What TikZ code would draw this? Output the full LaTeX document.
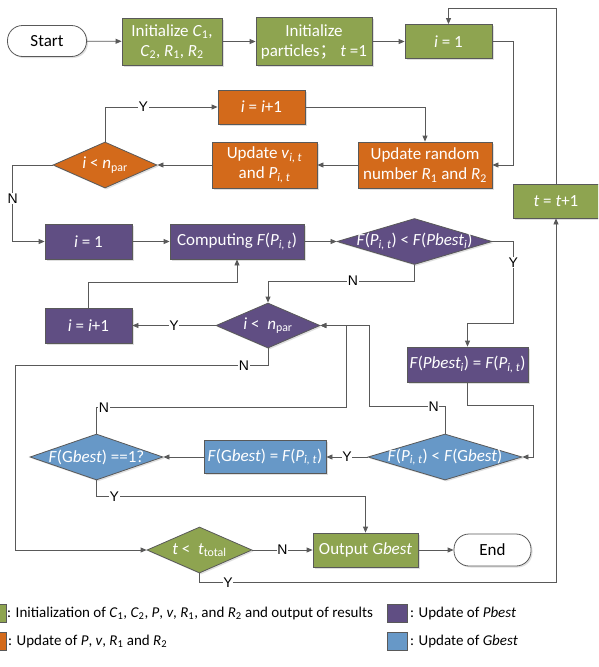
\documentclass[tikz,border=0pt]{standalone}
\usepackage{fontspec}
\setmainfont{Carlito}
\newfontfamily\lblfont{Liberation Sans}
\newfontfamily\cjk{Noto Sans CJK SC}
\usetikzlibrary{shapes.geometric,arrows.meta,shadows}
\definecolor{cgreen}{RGB}{142,164,80}
\definecolor{corange}{RGB}{211,106,27}
\definecolor{cpurple}{RGB}{96,78,131}
\definecolor{cblue}{RGB}{103,152,199}
\newcommand{\ivar}[2]{\textit{#1}\textsubscript{#2}}
\newcommand{\Pit}{\ivar{P}{\textit{i, t}}}

\begin{document}
\begin{tikzpicture}[x=1pt,y=-1pt,
        every node/.style = {font=\fontsize{17}{20}\selectfont, align=center, inner sep=1pt},
        box/.style = {rectangle, draw=black!65, line width=0.8pt, text=white,
                      drop shadow={opacity=0.25, shadow xshift=1.5pt, shadow yshift=-1.5pt}},
        gbox/.style = {box, fill=cgreen},
        obox/.style = {box, fill=corange},
        pbox/.style = {box, fill=cpurple},
        bbox/.style = {box, fill=cblue},
        dec/.style = {diamond, draw=black!65, line width=0.8pt, inner sep=0pt,
                      drop shadow={opacity=0.25, shadow xshift=1.5pt, shadow yshift=-1.5pt}},
        wtxt/.style = {text=white},
        term/.style = {rectangle, rounded corners=15pt, draw=black!65, line width=0.8pt, fill=white,
                       drop shadow={opacity=0.25, shadow xshift=1.5pt, shadow yshift=-1.5pt}},
        conn/.style = {draw=black!65, line width=0.8pt, -{Triangle[length=6pt,width=5pt]}},
        yn/.style = {font=\lblfont\fontsize{14}{14}\selectfont, fill=white, inner sep=0.6pt, text=black},
        leg/.style = {rectangle, draw=black!65, line width=0.8pt, minimum width=20pt, minimum height=18pt, inner sep=0pt},
        legtxt/.style = {anchor=west, inner sep=0pt, font=\fontsize{15}{17}\selectfont}]
    \clip (0,0) rectangle (598,667);

    % initialization
    \node[term, minimum width=79pt, minimum height=31pt] (start) at (47,41) {Start};
    \node[gbox, minimum width=100pt, minimum height=47pt] (initC) at (172,41.5)
        {Initialize \ivar{C}{1},\\\ivar{C}{2}, \ivar{R}{1}, \ivar{R}{2}};
    \node[gbox, minimum width=116pt, minimum height=48pt] (initP) at (314,41.5)
        {Initialize\\particles{\cjk ；}\ \textit{t} =1};
    \node[gbox, minimum width=87pt, minimum height=34pt] (i1) at (448.5,41.5) {\textit{i} = 1};
    \node[gbox, minimum width=86pt, minimum height=34pt] (tinc) at (556,201) {\textit{t} = \textit{t}+1};

    % update of P, v, R1, R2
    \node[obox, minimum width=87pt, minimum height=34pt] (oinc) at (261.5,107) {\textit{i} = \textit{i}+1};
    \node[obox, minimum width=134pt, minimum height=46pt] (updR) at (425,165)
        {Update random\\number \ivar{R}{1} and \ivar{R}{2}};
    \node[obox, minimum width=105pt, minimum height=46pt] (updV) at (264.5,165)
        {Update \ivar{v}{\textit{i, t}}\\and \Pit};
    \node[dec, fill=corange, minimum width=104pt, minimum height=46pt,
          label={[wtxt]center:\textit{i} < \ivar{n}{par}}] (odec) at (105,165) {};

    % update of Pbest
    \node[pbox, minimum width=87pt, minimum height=35pt] (pi1) at (88.5,241.5) {\textit{i} = 1};
    \node[pbox, minimum width=134pt, minimum height=35pt] (comp) at (237,241.5) {Computing \textit{F}(\Pit)};
    \node[dec, fill=cpurple, minimum width=155pt, minimum height=46pt,
          label={[wtxt]center:\textit{F}(\Pit) < \textit{F}(\ivar{Pbest}{\textit{i}})}] (pdec1) at (414.5,241.5) {};
    \node[pbox, minimum width=121pt, minimum height=35pt] (pbestA) at (467.5,364.5)
        {\textit{F}(\ivar{Pbest}{\textit{i}}) = \textit{F}(\Pit)};
    \node[dec, fill=cpurple, minimum width=104pt, minimum height=45pt,
          label={[wtxt]center:\textit{i} <\ \ \ivar{n}{par}}] (pdec2) at (268,325.5) {};
    \node[pbox, minimum width=87pt, minimum height=35pt] (pinc) at (88.5,325.5) {\textit{i} = \textit{i}+1};

    % update of Gbest
    \node[dec, fill=cblue, minimum width=154pt, minimum height=46pt,
          label={[wtxt]center:\textit{F}(\Pit) < \textit{F}(G\textit{best})}] (gdec1) at (445,457) {};
    \node[bbox, minimum width=122pt, minimum height=33pt] (gset) at (265,457)
        {\textit{F}(G\textit{best}) = \textit{F}(\Pit)};
    \node[dec, fill=cblue, minimum width=133pt, minimum height=46pt,
          label={[wtxt]center:\textit{F}(G\textit{best}) ==1?}] (gdec2) at (96.5,457) {};

    % output
    \node[dec, fill=cgreen, minimum width=105pt, minimum height=46pt,
          label={[wtxt]center:\textit{t} <\ \ \ivar{t}{total}}] (tdec) at (199.5,550) {};
    \node[gbox, minimum width=105pt, minimum height=34pt] (out) at (365.5,550) {Output \textit{Gbest}};
    \node[term, minimum width=77pt, minimum height=32pt] (end) at (492.5,550) {End};

    \draw[conn] (start) -- (initC);
    \draw[conn] (initC) -- (initP);
    \draw[conn] (initP) -- (i1);
    \draw[conn] (i1.east) -- ++(21,0) |- (updR.east);
    \draw[conn] (updR) -- (updV);
    \draw[conn] (updV) -- (odec);
    \draw[conn] (odec.north) |- node[yn, pos=0.67] {Y} (oinc.west);
    \draw[conn] (oinc.east) -| (updR.north);
    \draw[conn] (odec.west) -- ++(-40,0) |- node[yn, pos=0.22] {N} (pi1.west);
    \draw[conn] (pi1) -- (comp);
    \draw[conn] (comp) -- (pdec1);
    \draw[conn] (pdec1.east) -- ++(21,0) -- node[yn, pos=0.26] {Y} ++(0,82) -| (pbestA.north);
    \draw[conn] (pdec1.south) -- ++(0,16) -| node[yn, pos=0.21] {N} (pdec2.north);
    \draw[conn] (pdec2.west) -- node[yn] {Y} (pinc.east);
    \draw[conn] (pinc.north) -- ++(0,-25) -| (comp.south);
    \draw[conn] (pdec2.south) -- ++(0,17) -- node[yn, pos=0.095] {N} ++(-253,0) |- (tdec.west);
    \draw[conn] (pbestA.south) -- ++(0,23) -- ++(66,0) |- (gdec1.east);
    \draw[conn] (gdec1.north) -- ++(0,-27) -- node[yn, pos=0.15] {N} ++(-76,0) |- (pdec2.east);
    \draw[conn] (gdec1.west) -- node[yn] {Y} (gset.east);
    \draw[conn] (gset) -- (gdec2);
    \draw[conn] (gdec2.north) -- ++(0,-26) -- node[yn, pos=0.03] {N} ++(250,0) |- (pdec2.east);
    \draw[conn] (gdec2.south) -- ++(0,16) -| node[yn, pos=0.033] {Y} (out.north);
    \draw[conn] (tdec) -- node[yn] {N} (out);
    \draw[conn] (out) -- (end);
    \draw[conn] (tdec.south) -- ++(0,9) -| node[yn, pos=0.04] {Y} (tinc.south);
    \draw[conn] (tinc.north) -- ++(0,-175) -| (i1.north);

    % legend
    \node[leg, fill=cgreen] (legG) at (-4,613.5) {};
    \node[legtxt] (legGt) at (7,613.5)
        {: Initialization of \ivar{C}{1}, \ivar{C}{2}, \textit{P}, \textit{v}, \ivar{R}{1}, and \ivar{R}{2} and output of results};
    \node[leg, fill=corange] (legO) at (-4,641.5) {};
    \node[legtxt] (legOt) at (8,641.5) {: Update of \textit{P}, \textit{v}, \ivar{R}{1} and \ivar{R}{2}};
    \node[leg, fill=cpurple] (legP) at (397,613.5) {};
    \node[legtxt] (legPt) at (410,613.5) {: Update of \textit{Pbest}};
    \node[leg, fill=cblue] (legB) at (397,641.5) {};
    \node[legtxt] (legBt) at (410,641.5) {: Update of \textit{Gbest}};
\end{tikzpicture}
\end{document}
